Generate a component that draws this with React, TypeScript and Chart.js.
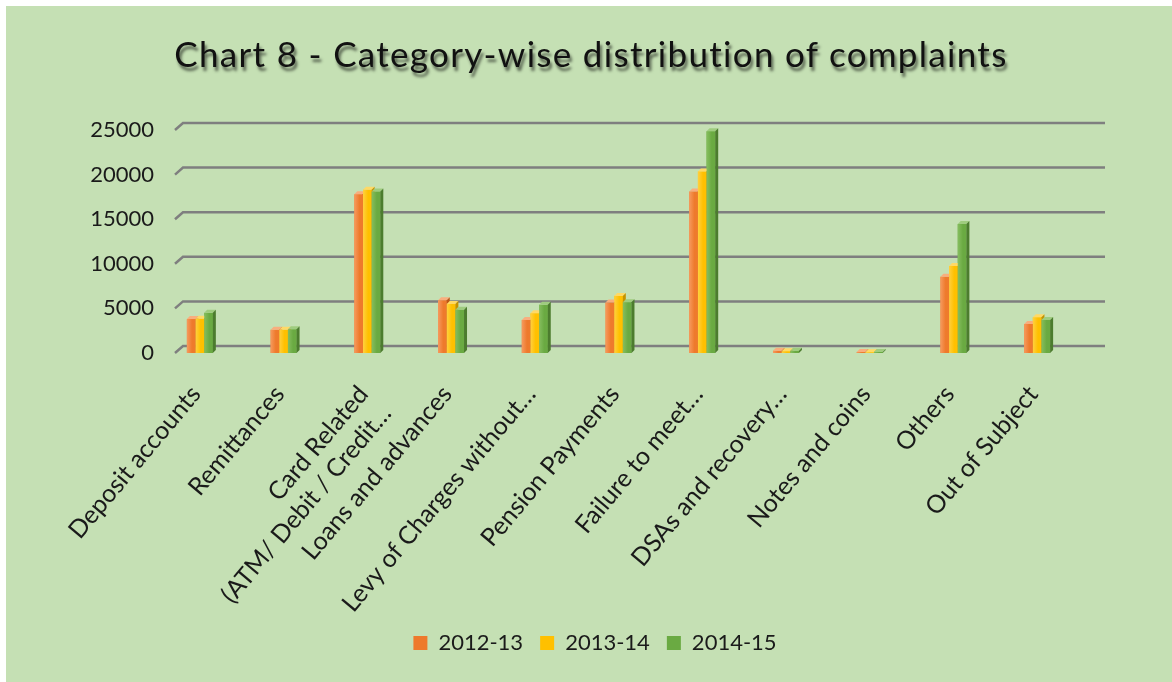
import React, { useEffect, useRef } from "react";
import { Chart, registerables } from "chart.js";

Chart.register(...registerables);

const categories: (string | string[])[] = [
  "Deposit accounts",
  "Remittances",
  ["Card Related", "(ATM/ Debit / Credit…"],
  "Loans and advances",
  "Levy of Charges without…",
  "Pension Payments",
  "Failure to meet…",
  "DSAs and recovery…",
  "Notes and coins",
  "Others",
  "Out of Subject",
];

const seriesNames = ["2012-13", "2013-14", "2014-15"];
const values2012 = [3800, 2600, 17800, 5900, 3700, 5650, 18100, 250, 100, 8550, 3250];
const values2013 = [3850, 2600, 18300, 5500, 4450, 6400, 20350, 200, 80, 9750, 4000];
const values2014 = [4500, 2650, 18100, 4850, 5400, 5700, 24850, 250, 120, 14450, 3700];

const yMin = 0;
const yMax = 25000;
const yStep = 5000;

const TITLE = "Chart 8 - Category-wise distribution of complaints";
const FONT = "Lato, 'Open Sans', sans-serif";

const palettes = [
  { base: "#EE7A2C", light: "#F69A5E", top: "#F8AE7E", side: "#BE5514" },
  { base: "#FFC000", light: "#FFD040", top: "#FFD966", side: "#C49200" },
  { base: "#6AAA42", light: "#86BE5F", top: "#9FCC7F", side: "#4C7C2E" },
];

const grid3d = {
  id: "grid3d",
  beforeDatasetsDraw(chart: any) {
    const { ctx, chartArea, scales } = chart;
    const y = scales.y;
    ctx.save();
    ctx.strokeStyle = "#7f7f7f";
    ctx.lineWidth = 2.5;
    y.ticks.forEach((t: any) => {
      const py = y.getPixelForValue(t.value);
      ctx.beginPath();
      ctx.moveTo(chartArea.left + 17, py);
      ctx.lineTo(chartArea.left + 25, py - 7);
      ctx.lineTo(chartArea.right + 26, py - 7);
      ctx.stroke();
    });
    ctx.restore();
  },
};

const bars3d = {
  id: "bars3d",
  afterDatasetsDraw(chart: any) {
    const { ctx } = chart;
    const d = 3;
    const metas = chart.data.datasets.map((_: any, i: number) => chart.getDatasetMeta(i));
    const n = chart.data.labels.length;
    ctx.save();
    for (let j = 0; j < n; j++) {
      metas.forEach((meta: any, i: number) => {
        const el = meta.data[j];
        if (!el) return;
        const { x, y, base, width } = el.getProps(["x", "y", "base", "width"], true);
        const p = palettes[i];
        const l = x - width / 2;
        const r = x + width / 2;
        const g = ctx.createLinearGradient(l, 0, r, 0);
        g.addColorStop(0, p.light);
        g.addColorStop(0.6, p.base);
        g.addColorStop(1, p.base);
        ctx.fillStyle = g;
        ctx.fillRect(l, y, width, base - y);
        ctx.fillStyle = p.top;
        ctx.beginPath();
        ctx.moveTo(l, y);
        ctx.lineTo(l + d, y - d);
        ctx.lineTo(r + d, y - d);
        ctx.lineTo(r, y);
        ctx.closePath();
        ctx.fill();
        ctx.fillStyle = p.side;
        ctx.beginPath();
        ctx.moveTo(r, y);
        ctx.lineTo(r + d, y - d);
        ctx.lineTo(r + d, base - d);
        ctx.lineTo(r, base);
        ctx.closePath();
        ctx.fill();
      });
    }
    ctx.restore();
  },
};

export default function App() {
  const canvasRef = useRef<HTMLCanvasElement | null>(null);

  useEffect(() => {
    document.body.style.margin = "0";
    const canvas = canvasRef.current;
    if (!canvas) return;
    const seriesValues = [values2012, values2013, values2014];
    const chart = new Chart(canvas, {
      type: "bar",
      data: {
        labels: categories,
        datasets: seriesNames.map((name, i) => ({
          label: name,
          data: seriesValues[i],
          backgroundColor: palettes[i].base,
          borderWidth: 0,
          barPercentage: 1,
          categoryPercentage: 0.31,
          yAxisID: "y",
        })),
      },
      options: {
        responsive: false,
        animation: false,
        devicePixelRatio: 1,
        layout: { padding: { top: 124, right: 68, bottom: 18, left: 80 } },
        plugins: {
          title: { display: false },
          tooltip: { enabled: false },
          legend: {
            position: "bottom",
            labels: {
              boxWidth: 14,
              boxHeight: 14,
              padding: 17,
              color: "#1a1a1a",
              font: { family: FONT, size: 22 },
            },
          },
        },
        scales: {
          x: {
            grid: { display: false, drawTicks: false },
            border: { display: false },
            ticks: {
              autoSkip: false,
              maxRotation: 50,
              minRotation: 50,
              padding: 27,
              labelOffset: -4,
              color: "#1a1a1a",
              font: { family: FONT, size: 25 },
            },
            afterFit: (scale: any) => {
              scale.height = 262;
            },
          },
          y: {
            position: "left",
            min: yMin,
            max: yMax,
            grid: { display: false, drawTicks: false },
            border: { display: false },
            ticks: {
              stepSize: yStep,
              padding: 4,
              color: "#1a1a1a",
              font: { family: FONT, size: 22 },
              callback: (v: any) => String(v),
            },
            afterFit: (scale: any) => {
              scale.width = 72;
            },
          },
          yRight: {
            position: "right",
            min: yMin,
            max: yMax,
            grid: { display: false, drawTicks: false },
            border: { display: false },
            ticks: { display: false },
            afterFit: (scale: any) => {
              scale.width = 25;
            },
          },
        },
      },
      plugins: [grid3d, bars3d],
    });
    return () => chart.destroy();
  }, []);

  return (
    <div style={{ position: "fixed", left: 0, top: 0, width: 1172, height: 682, background: "#ffffff" }}>
      <div style={{ position: "absolute", left: 6, top: 6, width: 1166, height: 676, background: "#C5E0B4" }}>
        <canvas ref={canvasRef} width={1166} height={676} style={{ display: "block" }} />
        <div
          style={{
            position: "absolute",
            left: 0,
            top: 26,
            width: 1166,
            paddingLeft: 4,
            boxSizing: "border-box",
            textAlign: "center",
            fontFamily: FONT,
            fontSize: 35,
            letterSpacing: "1.3px",
            color: "#111",
            textShadow: "2px 4px 3px rgba(0,0,0,0.55)",
            whiteSpace: "nowrap",
          }}
        >
          {TITLE}
        </div>
      </div>
    </div>
  );
}
